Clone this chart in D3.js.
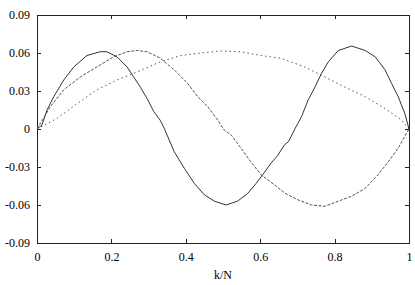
<!DOCTYPE html>
<html>
<head>
<meta charset="utf-8">
<script src="https://cdn.jsdelivr.net/npm/d3@7"></script>
<style>
  body { margin: 0; background: #fff; }
  svg { display: block; }
  .axis line, .axis path { stroke: #222; shape-rendering: crispEdges; }
</style>
</head>
<body>
<div id="viz"></div>
<script>
const solidX = [0, 0.013, 0.027, 0.045, 0.072, 0.099, 0.134, 0.17, 0.188, 0.215, 0.242, 0.26, 0.278, 0.296, 0.314, 0.331, 0.342, 0.369, 0.396, 0.423, 0.45, 0.477, 0.508, 0.539, 0.566, 0.589, 0.607, 0.629, 0.647, 0.665, 0.676, 0.694, 0.711, 0.729, 0.747, 0.765, 0.783, 0.81, 0.846, 0.882, 0.909, 0.935, 0.953, 0.971, 0.989, 1];
const solidY = [0, 0.003, 0.015, 0.0255, 0.0387, 0.049, 0.058, 0.061, 0.061, 0.057, 0.049, 0.041, 0.033, 0.024, 0.0137, 0.007, 0.0005, -0.018, -0.031, -0.043, -0.052, -0.057, -0.06, -0.057, -0.051, -0.043, -0.036, -0.027, -0.021, -0.0126, -0.01, 0.0005, 0.0097, 0.023, 0.033, 0.044, 0.053, 0.062, 0.0655, 0.062, 0.057, 0.047, 0.036, 0.0255, 0.012, 0];

const dashX = [0, 0.036, 0.072, 0.116, 0.161, 0.206, 0.242, 0.269, 0.296, 0.331, 0.369, 0.405, 0.432, 0.459, 0.486, 0.503, 0.522, 0.548, 0.575, 0.602, 0.638, 0.667, 0.702, 0.738, 0.774, 0.81, 0.846, 0.882, 0.917, 0.944, 0.971, 1];
const dashY = [0, 0.0176, 0.031, 0.041, 0.049, 0.057, 0.061, 0.062, 0.061, 0.056, 0.0466, 0.036, 0.0255, 0.0176, 0.007, -0.0008, -0.0047, -0.015, -0.026, -0.036, -0.044, -0.0508, -0.056, -0.06, -0.061, -0.057, -0.053, -0.047, -0.036, -0.026, -0.015, 0];

const dotX = [0, 0.054, 0.108, 0.161, 0.215, 0.269, 0.331, 0.387, 0.441, 0.495, 0.548, 0.602, 0.656, 0.72, 0.774, 0.828, 0.882, 0.935, 0.98, 1];
const dotY = [0, 0.0084, 0.02, 0.031, 0.0387, 0.045, 0.053, 0.058, 0.06, 0.0616, 0.061, 0.058, 0.0558, 0.049, 0.041, 0.033, 0.0255, 0.0163, 0.007, 0];

const xTicks = [0, 0.2, 0.4, 0.6, 0.8, 1];
const yTicks = [-0.09, -0.06, -0.03, 0, 0.03, 0.06, 0.09];
const xLabel = "k/N";

const config = {
  width: 415,
  height: 285,
  left: 37,
  right: 409,
  top: 15,
  bottom: 243,
  tick: 4,
  font: "'Liberation Serif', 'Times New Roman', Times, serif",
  fontSize: 12,
};

const svg = d3.select("#viz").append("svg")
  .attr("width", config.width)
  .attr("height", config.height);

const x = d3.scaleLinear().domain([0, 1]).range([config.left, config.right]);
const y = d3.scaleLinear().domain([-0.09, 0.09]).range([config.bottom, config.top]);

const fmtY = (d) => (d === 0 ? "0" : d.toFixed(2));
const fmtX = (d) => (d === 0 ? "0" : d === 1 ? "1" : d.toFixed(1));

const styleAxis = (g) => {
  g.attr("font-family", null).attr("font-size", null);
  g.selectAll("text")
    .style("font-family", config.font)
    .style("font-size", config.fontSize + "px")
    .attr("fill", "#000");
};

svg.append("g").attr("class", "axis")
  .attr("transform", `translate(0,${config.bottom})`)
  .call(d3.axisBottom(x).tickValues(xTicks).tickFormat(fmtX).tickSize(-config.tick).tickSizeOuter(0).tickPadding(9))
  .call(styleAxis);

svg.append("g").attr("class", "axis")
  .attr("transform", `translate(0,${config.top})`)
  .call(d3.axisTop(x).tickValues(xTicks).tickFormat("").tickSize(-config.tick).tickSizeOuter(0));

svg.append("g").attr("class", "axis")
  .attr("transform", `translate(${config.left},0)`)
  .call(d3.axisLeft(y).tickValues(yTicks).tickFormat(fmtY).tickSize(-config.tick).tickSizeOuter(0).tickPadding(7))
  .call(styleAxis);

svg.append("g").attr("class", "axis")
  .attr("transform", `translate(${config.right},0)`)
  .call(d3.axisRight(y).tickValues(yTicks).tickFormat("").tickSize(-config.tick).tickSizeOuter(0));

svg.append("text")
  .attr("x", (config.left + config.right) / 2)
  .attr("y", 279)
  .attr("text-anchor", "middle")
  .style("font-family", config.font)
  .style("font-size", config.fontSize + "px")
  .text(xLabel);

const line = d3.line().x((d) => x(d[0])).y((d) => y(d[1]));

const series = [
  { xs: solidX, ys: solidY, stroke: "#333", dash: null },
  { xs: dashX, ys: dashY, stroke: "#555", dash: "3,1.5" },
  { xs: dotX, ys: dotY, stroke: "#555", dash: "1.5,3" },
];

series.forEach((s) => {
  svg.append("path")
    .datum(s.xs.map((v, i) => [v, s.ys[i]]))
    .attr("fill", "none")
    .attr("stroke", s.stroke)
    .attr("stroke-width", 1)
    .attr("stroke-dasharray", s.dash)
    .attr("d", line);
});
</script>
</body>
</html>
